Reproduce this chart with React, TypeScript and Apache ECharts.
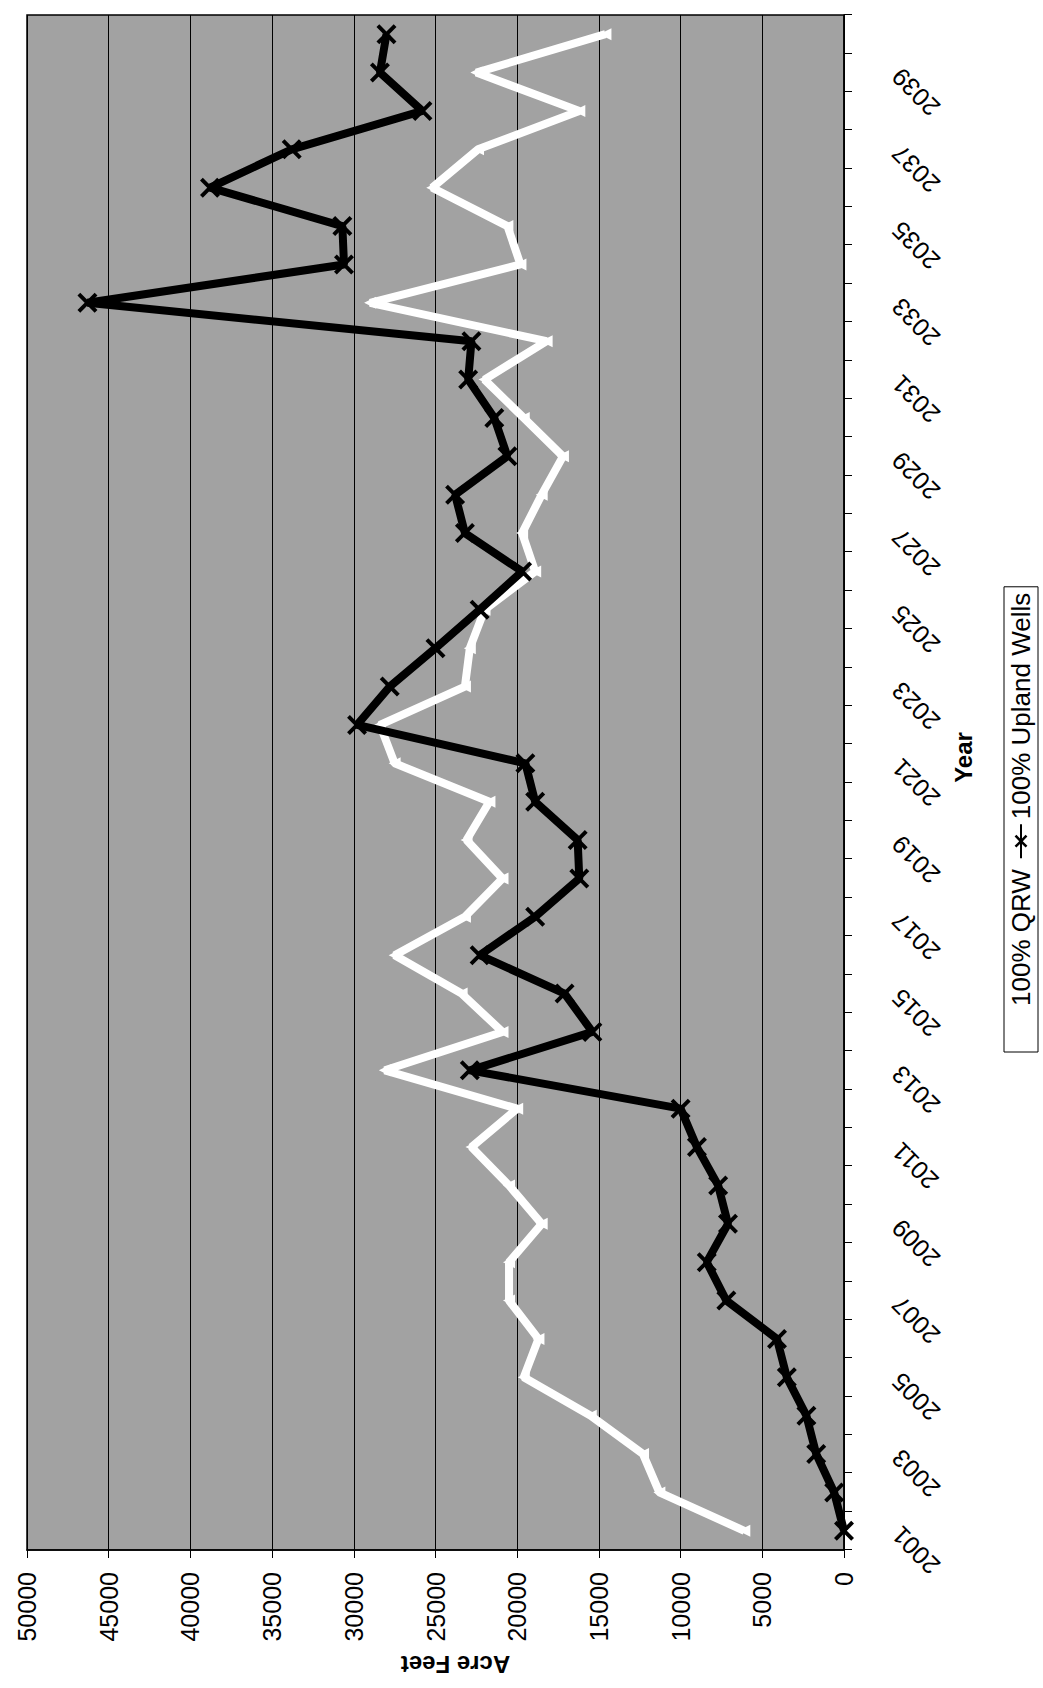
import React, { useEffect, useRef } from 'react';
import * as echarts from 'echarts';

const YEARS = [
  '2001', '2002', '2003', '2004', '2005', '2006', '2007', '2008', '2009', '2010',
  '2011', '2012', '2013', '2014', '2015', '2016', '2017', '2018', '2019', '2020',
  '2021', '2022', '2023', '2024', '2025', '2026', '2027', '2028', '2029', '2030',
  '2031', '2032', '2033', '2034', '2035', '2036', '2037', '2038', '2039', '2040',
];

const QRW = [
  6100, 11300, 12300, 15500, 19600, 18700, 20500, 20500, 18500, 20500,
  22800, 20000, 28100, 20900, 23400, 27500, 23200, 20900, 23100, 21700,
  27500, 28400, 23200, 22900, 22000, 18900, 19700, 18500, 17200, 19600,
  22000, 18200, 29000, 19800, 20600, 25200, 22400, 16200, 22500, 14600,
];

const UPLAND_WELLS = [
  0, 600, 1700, 2300, 3500, 4100, 7200, 8400, 7100, 7700,
  9000, 10000, 22900, 15400, 17100, 22300, 18900, 16200, 16300, 18900,
  19500, 29800, 27800, 25000, 22300, 19700, 23200, 23800, 20600, 21400,
  23000, 22800, 46300, 30600, 30700, 38800, 33800, 25800, 28400, 28000,
];

const VALUE_MIN = 0;
const VALUE_MAX = 50000;
const VALUE_STEP = 5000;

const SERIES_NAMES = ['100% QRW', '100% Upland Wells'];

const FONT = '"Liberation Sans", Arial, Helvetica, sans-serif';
const X_MARK =
  'path://M0,1.4L1.4,0L5,3.6L8.6,0L10,1.4L6.4,5L10,8.6L8.6,10L5,6.4L1.4,10L0,8.6L3.6,5Z';

export default function App() {
  const ref = useRef<HTMLDivElement>(null);

  useEffect(() => {
    if (!ref.current) return;
    const chart = echarts.init(ref.current, undefined, { renderer: 'svg' });
    const option = {
      animation: false,
      backgroundColor: '#ffffff',
      textStyle: { fontFamily: FONT },
      grid: {
        left: 138,
        right: 15,
        top: 27,
        bottom: 199,
        show: true,
        backgroundColor: '#a2a2a2',
        borderColor: '#000',
        borderWidth: 1.5,
      },
      legend: {
        data: SERIES_NAMES,
        orient: 'horizontal',
        left: 636,
        top: 1004,
        itemWidth: 34,
        itemHeight: 16,
        itemGap: 10,
        padding: [4, 6, 4, 6],
        borderColor: '#000',
        borderWidth: 1,
        backgroundColor: '#ffffff',
        textStyle: { fontSize: 26, color: '#000', fontFamily: FONT },
      },
      xAxis: {
        type: 'category',
        data: YEARS,
        boundaryGap: true,
        name: 'Year',
        nameLocation: 'middle',
        nameGap: 104,
        nameTextStyle: {
          fontFamily: FONT,
          fontSize: 24,
          fontWeight: 'bold',
          color: '#000',
          padding: [0, 0, 0, 50],
        },
        axisLine: { show: true, lineStyle: { color: '#000', width: 1.5 } },
        axisTick: { show: true, interval: 0, length: 8, lineStyle: { color: '#000', width: 1 } },
        axisLabel: {
          interval: 1,
          rotate: 45,
          fontSize: 25,
          color: '#000',
          margin: 52,
          fontFamily: FONT,
        },
        splitLine: { show: false },
      },
      yAxis: {
        type: 'value',
        min: VALUE_MIN,
        max: VALUE_MAX,
        interval: VALUE_STEP,
        name: 'Acre Feet',
        nameLocation: 'middle',
        nameRotate: 90,
        nameGap: 100,
        nameTextStyle: {
          fontFamily: FONT,
          fontSize: 24,
          fontWeight: 'bold',
          color: '#000',
          padding: [0, 40, 0, 0],
        },
        axisLine: { show: true, lineStyle: { color: '#000', width: 1.5 } },
        axisTick: { show: true, length: 8, lineStyle: { color: '#000', width: 1 } },
        axisLabel: {
          fontSize: 25,
          color: '#000',
          margin: 22,
          fontFamily: FONT,
          formatter: (v: number) => String(v),
        },
        splitLine: { show: true, lineStyle: { color: '#000', width: 1 } },
      },
      series: [
        {
          name: SERIES_NAMES[0],
          type: 'line',
          data: QRW,
          symbol: 'triangle',
          symbolSize: 12,
          showSymbol: true,
          lineStyle: { color: '#ffffff', width: 8 },
          itemStyle: { color: '#ffffff' },
          z: 2,
        },
        {
          name: SERIES_NAMES[1],
          type: 'line',
          data: UPLAND_WELLS,
          symbol: X_MARK,
          symbolSize: 20,
          showSymbol: true,
          lineStyle: { color: '#000000', width: 8 },
          itemStyle: { color: '#000000' },
          z: 3,
        },
      ],
    };
    chart.setOption(option);
    return () => chart.dispose();
  }, []);

  return (
    <div
      style={{
        position: 'absolute',
        left: 0,
        top: 0,
        width: 1043,
        height: 1688,
        overflow: 'hidden',
        background: '#fff',
      }}
    >
      <div
        ref={ref}
        style={{
          position: 'absolute',
          left: 0,
          top: 0,
          width: 1688,
          height: 1043,
          transformOrigin: '0 0',
          transform: 'translate(0px, 1688px) rotate(-90deg)',
        }}
      />
    </div>
  );
}
